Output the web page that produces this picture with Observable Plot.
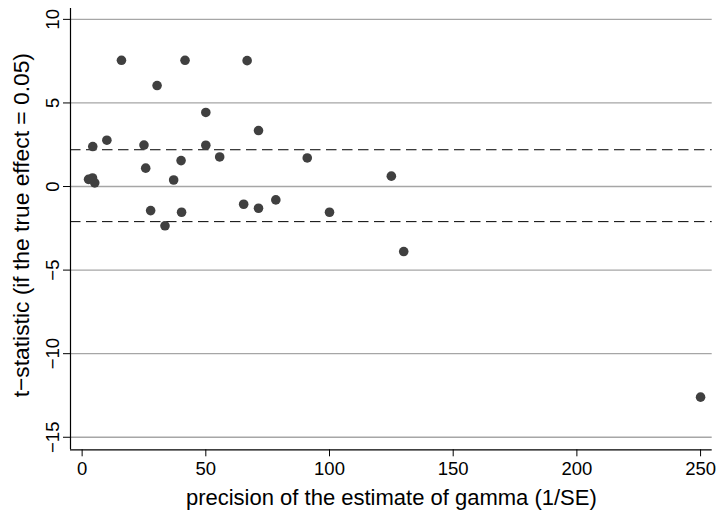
<!DOCTYPE html>
<html>
<head>
<meta charset="utf-8">
<script src="https://cdn.jsdelivr.net/npm/d3@7"></script>
<script src="https://cdn.jsdelivr.net/npm/@observablehq/plot@0.6"></script>
<style>
  html, body { margin: 0; padding: 0; background: #fff; }
  #chart svg { display: block; overflow: visible; }
</style>
</head>
<body>
<div id="chart"></div>
<script>
// precision of the estimate (1/SE)
const precision = [15.9, 41.6, 66.7, 30.3, 50.0, 71.3, 10.0, 4.3, 25.0, 50.0, 55.6, 91.0, 40.0, 25.7, 125.0, 37.0, 2.6, 4.2, 5.1, 65.3, 71.3, 78.3, 27.7, 40.2, 100.0, 33.5, 130.0, 250.0];
// t-statistic (if the true effect = 0.05)
const tstat = [7.55, 7.55, 7.53, 6.04, 4.43, 3.35, 2.77, 2.39, 2.48, 2.47, 1.77, 1.71, 1.55, 1.10, 0.62, 0.39, 0.43, 0.51, 0.22, -1.06, -1.30, -0.80, -1.44, -1.54, -1.54, -2.35, -3.89, -12.6];
const xTicks = [0, 50, 100, 150, 200, 250];
const yTicks = [-15, -10, -5, 0, 5, 10];
const criticalLines = [2.2, -2.1];
const xTitle = "precision of the estimate of gamma (1/SE)";
const yTitle = "t\u2212statistic (if the true effect = 0.05)";

const data = precision.map((p, i) => ({precision: p, t: tstat[i]}));
const xDomain = [-4.7, 254.7];
const yDomain = [-15.75, 10.65];

const chart = Plot.plot({
  width: 722,
  height: 515,
  marginLeft: 70,
  marginRight: 10.3,
  marginTop: 8,
  marginBottom: 65.7,
  style: {fontFamily: "'Liberation Sans', Arial, Helvetica, sans-serif", background: "#fff", color: "#000"},
  x: {domain: xDomain},
  y: {domain: yDomain},
  marks: [
    Plot.ruleY(yTicks, {stroke: "#a6a6a6", strokeWidth: 1.3}),
    Plot.ruleY(criticalLines, {stroke: "#000", strokeWidth: 1, strokeDasharray: "10.5,5.5"}),
    Plot.ruleX([xDomain[0]], {stroke: "#000", strokeWidth: 1.2}),
    Plot.ruleY([yDomain[0]], {stroke: "#000", strokeWidth: 1.2}),
    Plot.axisX({ticks: xTicks, tickSize: 7, tickPadding: 5, fontSize: 18.5, label: null, stroke: "#000"}),
    Plot.axisY({ticks: yTicks, tickSize: 7, tickPadding: 4.5, tickRotate: -90, fontSize: 18.5, label: null, stroke: "#000"}),
    Plot.dot(data, {x: "precision", y: "t", r: 4.8, fill: "#404040", stroke: "none"}),
    Plot.text([xTitle], {frameAnchor: "bottom", lineAnchor: "bottom", textAnchor: "middle", dy: 55, fontSize: 22, fill: "#000"}),
    Plot.text([yTitle], {frameAnchor: "left", lineAnchor: "bottom", textAnchor: "middle", rotate: -90, dx: -42, dy: -4, fontSize: 22.8, fill: "#000"})
  ]
});
document.getElementById("chart").appendChild(chart);
</script>
</body>
</html>
